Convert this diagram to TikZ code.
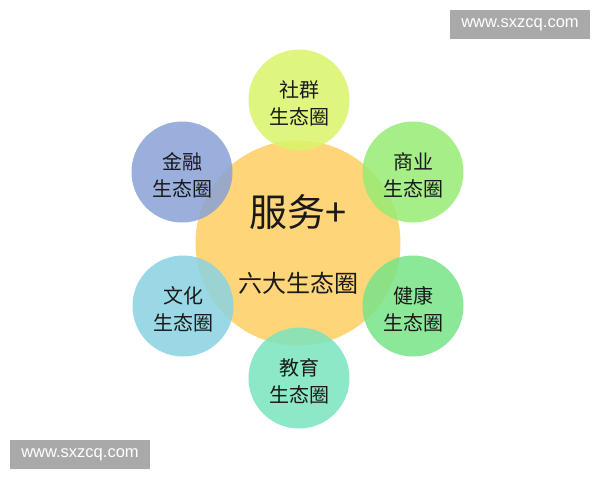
\documentclass[tikz,border=0pt]{standalone}
\usepackage{fontspec}
\setmainfont{Liberation Sans}
\newfontfamily\cjk{Noto Sans CJK SC}
\definecolor{centerc}{HTML}{FFD57A}
\definecolor{shequn}{HTML}{D9F46A}
\definecolor{shangye}{HTML}{96EC74}
\definecolor{jiankang}{HTML}{78E488}
\definecolor{jiaoyu}{HTML}{7AE4BE}
\definecolor{wenhua}{HTML}{8AD2E2}
\definecolor{jinrong}{HTML}{8AA2D8}
\definecolor{wmgray}{HTML}{A9A9A9}
\begin{document}
\begin{tikzpicture}[x=1pt,y=-1pt,
  small/.style={circle,minimum size=101pt,inner sep=0pt,fill opacity=0.85,fill=#1},
  smalltext/.style={align=center,font=\cjk\fontsize{20}{27}\selectfont,text=black!90,inner sep=0pt},
  wm/.style={fill=wmgray,text=white,minimum width=140pt,minimum height=29pt,inner sep=0pt,font=\fontsize{16.5}{18}\selectfont}]
\useasboundingbox (0,0) rectangle (600,480);
\fill[white] (0,0) rectangle (600,480);
\node[circle,fill=centerc,minimum size=205pt,inner sep=0pt] (c) at (298,243) {};
\node[font=\cjk\fontsize{38}{40}\selectfont,text=black!90] (t1) at (298,212) {服务+};
\node[font=\cjk\fontsize{24}{26}\selectfont,text=black!90] (t2) at (298,283) {六大生态圈};
\node[small=shequn] (a) at (299,100) {};
\node[small=shangye] (b) at (413,172) {};
\node[small=jiankang] (d) at (413,306) {};
\node[small=jiaoyu] (e) at (299,378) {};
\node[small=wenhua] (f) at (183,306) {};
\node[small=jinrong] (g) at (182,172) {};
\node[smalltext] (at) at ([yshift=-3pt]a.center) {社群\\生态圈};
\node[smalltext] (bt) at ([yshift=-3pt]b.center) {商业\\生态圈};
\node[smalltext] (dt) at ([yshift=-3pt]d.center) {健康\\生态圈};
\node[smalltext] (et) at ([yshift=-3pt]e.center) {教育\\生态圈};
\node[smalltext] (ft) at ([yshift=-3pt]f.center) {文化\\生态圈};
\node[smalltext] (gt) at ([yshift=-3pt]g.center) {金融\\生态圈};
\node[wm] (w1) at (520,24.5) {www.sxzcq.com};
\node[wm] (w2) at (80,454.5) {www.sxzcq.com};
\end{tikzpicture}
\end{document}
